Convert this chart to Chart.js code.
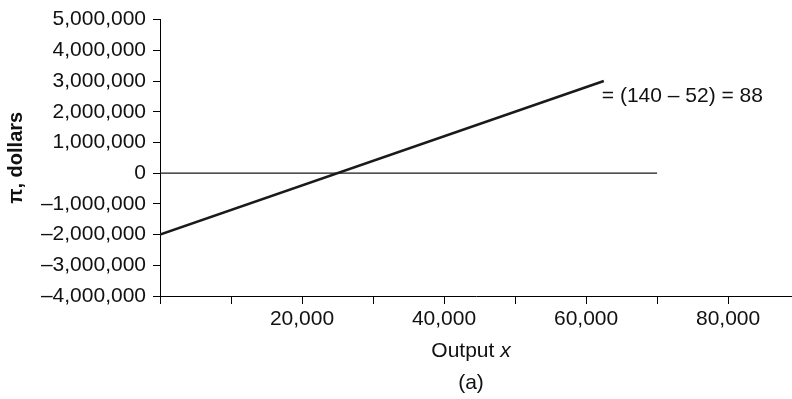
<!DOCTYPE html>
<html>
<head>
<meta charset="utf-8">
<script src="https://cdn.jsdelivr.net/npm/chart.js@4.4.0/dist/chart.umd.min.js"></script>
<style>
  html, body { margin: 0; padding: 0; background: #fff; }
  #wrap { width: 792px; height: 399px; position: relative; }
</style>
</head>
<body>
<div id="wrap"><canvas id="profitChart"></canvas></div>
<script>
// profit line: pi = 80x - 2,000,000, drawn up to x = 62,500
const outputX = [0, 62500];
const profitY = [-2000000, 3000000];
// break-even reference line at zero
const zeroX = [0, 70000];
const zeroY = [0, 0];

const yTickValues = [-4000000, -3000000, -2000000, -1000000, 0, 1000000, 2000000, 3000000, 4000000, 5000000];
const xTickValues = [0, 10000, 20000, 30000, 40000, 50000, 60000, 70000, 80000];
const xLabelled = [20000, 40000, 60000, 80000];

const slopeNote = '= (140 \u2013 52) = 88';
const yTitle = '\u03c0, dollars';
const xTitle = 'Output ';
const xTitleVar = 'x';
const panelTag = '(a)';

const FONT = '"Liberation Sans", Arial, Helvetica, sans-serif';
const SIZE = 21;
const INK = '#111';

Chart.defaults.font.family = FONT;
Chart.defaults.font.size = SIZE;
Chart.defaults.color = INK;

function fmt(v) {
  const s = Math.abs(v).toLocaleString('en-US');
  return v < 0 ? '\u2013' + s : s;
}

function toPoints(xs, ys) {
  return xs.map((x, i) => ({ x: x, y: ys[i] }));
}

// captions that Chart.js can't mix styles for
const captions = {
  id: 'captions',
  afterDraw(chart) {
    const { ctx, chartArea, scales } = chart;
    const plain = SIZE + 'px ' + FONT;
    const ital = 'italic ' + SIZE + 'px ' + FONT;
    ctx.save();
    ctx.fillStyle = INK;
    ctx.textBaseline = 'alphabetic';

    // slope note just under the end of the profit line
    const ex = scales.x.getPixelForValue(outputX[1]);
    const ey = scales.y.getPixelForValue(profitY[1]);
    ctx.font = plain;
    ctx.textAlign = 'left';
    ctx.fillText(slopeNote, ex - 2, ey + 21);

    // "Output x" with italic x
    const mid = (chartArea.left + chartArea.right) / 2 - 5;
    ctx.font = plain;
    const w1 = ctx.measureText(xTitle).width;
    ctx.font = ital;
    const w2 = ctx.measureText(xTitleVar).width;
    const sx = mid - (w1 + w2) / 2;
    ctx.font = plain;
    ctx.fillText(xTitle, sx, 357);
    ctx.font = ital;
    ctx.fillText(xTitleVar, sx + w1, 357);

    ctx.font = plain;
    ctx.textAlign = 'center';
    ctx.fillText(panelTag, mid, 389);
    ctx.restore();
  }
};

new Chart(document.getElementById('profitChart'), {
  type: 'line',
  data: {
    datasets: [
      {
        data: toPoints(zeroX, zeroY),
        borderColor: '#1a1a1a',
        borderWidth: 1.3,
        pointRadius: 0,
        fill: false,
      },
      {
        data: toPoints(outputX, profitY),
        borderColor: '#1a1a1a',
        borderWidth: 2.6,
        pointRadius: 0,
        fill: false,
      },
    ],
  },
  options: {
    responsive: true,
    maintainAspectRatio: false,
    animation: false,
    layout: { padding: { top: 17, right: 0, bottom: 0, left: 0 } },
    plugins: {
      legend: { display: false },
      tooltip: { enabled: false },
    },
    scales: {
      x: {
        type: 'linear',
        position: 'bottom',
        min: 0,
        max: 89000,
        afterBuildTicks: (s) => { s.ticks = xTickValues.map((v) => ({ value: v })); },
        afterFit: (s) => { s.height = 103; },
        ticks: {
          autoSkip: false,
          maxRotation: 0,
          padding: 3,
          color: INK,
          callback: (v) => (xLabelled.includes(v) ? fmt(v) : ''),
        },
        grid: { drawOnChartArea: false, drawTicks: true, tickLength: 8, color: '#000', lineWidth: 1 },
        border: { display: true, color: '#000', width: 1 },
      },
      y: {
        min: -4000000,
        max: 5000000,
        afterBuildTicks: (s) => { s.ticks = yTickValues.map((v) => ({ value: v })); },
        afterFit: (s) => { s.width = 160; },
        ticks: {
          padding: 7,
          color: INK,
          callback: (v) => fmt(v),
        },
        grid: { drawOnChartArea: false, drawTicks: true, tickLength: 7, color: '#000', lineWidth: 1 },
        border: { display: true, color: '#000', width: 1 },
        title: {
          display: true,
          text: yTitle,
          color: INK,
          font: { size: 20, weight: 'bold' },
          padding: { top: 4, bottom: 0 },
        },
      },
    },
  },
  plugins: [captions],
});
</script>
</body>
</html>
